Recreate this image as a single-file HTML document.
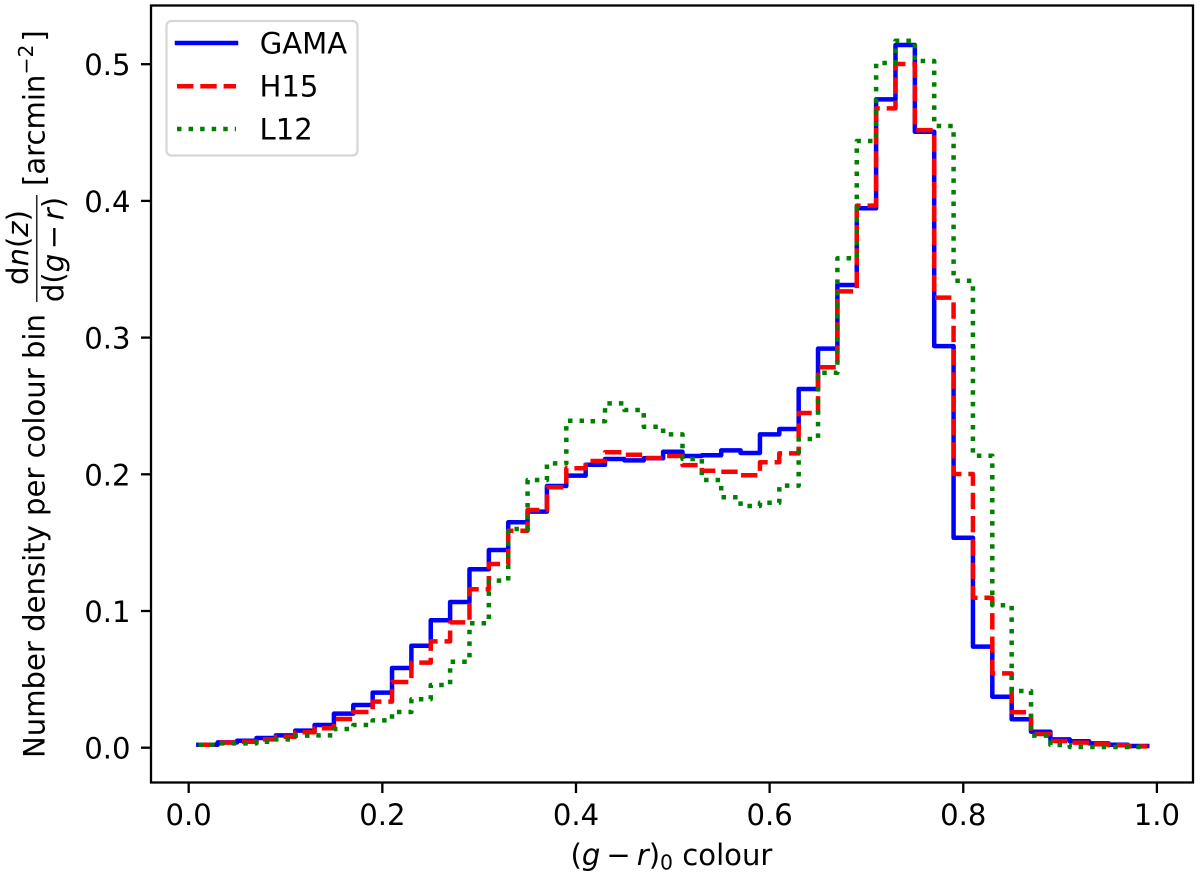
<!DOCTYPE html>
<html lang="en">
<head>
<meta charset="utf-8">
<title>Number density per colour bin</title>
<style>
html,body{margin:0;padding:0;background:#fff;}
svg{display:block;}
text{font-family:"DejaVu Sans","Liberation Sans",sans-serif;font-size:29.1px;fill:#000;white-space:pre;}
.it{font-style:italic;}
</style>
</head>
<body>
<svg id="chart" xmlns="http://www.w3.org/2000/svg" width="1200" height="878" viewBox="0 0 1200 878">
  <rect x="0" y="0" width="1200" height="878" fill="#fff"/>
  <g id="series-layer"></g>
  <rect x="151" y="5.5" width="1042" height="777" fill="none" stroke="#000" stroke-width="2.3"/>
  <g id="x-ticks"></g>
  <g id="y-ticks"></g>

  <text x="570.5" y="865">(<tspan class="it">g</tspan><tspan dx="6">−</tspan><tspan class="it" dx="6">r</tspan>)<tspan font-size="20.4" dy="4.5">0</tspan><tspan dy="-4.5"> colour</tspan></text>

  <g>
    <text transform="translate(44.3,758) rotate(-90)">Number density per colour bin</text>
    <text transform="translate(28,247.5) rotate(-90)" text-anchor="middle">d<tspan class="it">n</tspan>(<tspan class="it">z</tspan>)</text>
    <line x1="36.8" x2="36.8" y1="195" y2="302" stroke="#000" stroke-width="1.3"/>
    <text transform="translate(63.3,249.5) rotate(-90)" text-anchor="middle">d(<tspan class="it">g</tspan><tspan dx="4.6">−</tspan><tspan class="it" dx="4.6">r</tspan>)</text>
    <text transform="translate(44.3,186) rotate(-90)">[arcmin<tspan font-size="20.4" dy="-11.5">−2</tspan><tspan dx="3" dy="11.5">]</tspan></text>
  </g>

  <g>
    <rect x="166.5" y="21" width="191" height="134.5" rx="5" ry="5" fill="#fff" fill-opacity="0.8" stroke="#ccc" stroke-opacity="0.8" stroke-width="2.2"/>
    <g>
      <line x1="177" x2="236" y1="43" y2="43" stroke="#0000ff" stroke-width="4.5" stroke-linecap="square"/>
      <text x="259.7" y="53.3">GAMA</text>
    </g>
    <g>
      <line x1="177" x2="236" y1="86.3" y2="86.3" stroke="#ff0000" stroke-width="4.5" stroke-dasharray="16.4 6.9"/>
      <text x="259.5" y="96.7">H15</text>
    </g>
    <g>
      <line x1="177" x2="236" y1="129" y2="129" stroke="#008000" stroke-width="4.5" stroke-dasharray="4.5 7.06"/>
      <text x="259.5" y="139.6">L12</text>
    </g>
  </g>
</svg>
<script>
var binCentres = [0.02,0.04,0.06,0.08,0.10,0.12,0.14,0.16,0.18,0.20,0.22,0.24,0.26,0.28,0.30,0.32,0.34,0.36,0.38,0.40,0.42,0.44,0.46,0.48,0.50,0.52,0.54,0.56,0.58,0.60,0.62,0.64,0.66,0.68,0.70,0.72,0.74,0.76,0.78,0.80,0.82,0.84,0.86,0.88,0.90,0.92,0.94,0.96,0.98];
var gamaValues = [0.0022,0.0039,0.0051,0.0071,0.0090,0.0125,0.0166,0.0249,0.0312,0.0403,0.0583,0.0746,0.0932,0.1066,0.1305,0.1446,0.1649,0.1727,0.1914,0.1990,0.2070,0.2112,0.2102,0.2117,0.2165,0.2134,0.2139,0.2175,0.2156,0.2292,0.2331,0.2624,0.2919,0.3385,0.3946,0.4743,0.5140,0.4506,0.2938,0.1536,0.0739,0.0373,0.0208,0.0117,0.0061,0.0047,0.0032,0.0022,0.0012];
var h15Values = [0.0022,0.0037,0.0044,0.0061,0.0080,0.0113,0.0142,0.0210,0.0261,0.0337,0.0481,0.0622,0.0778,0.0917,0.1159,0.1344,0.1587,0.1739,0.1905,0.2044,0.2097,0.2161,0.2143,0.2119,0.2134,0.2067,0.2026,0.2019,0.1993,0.2088,0.2153,0.2448,0.2783,0.3338,0.3965,0.4677,0.5001,0.4518,0.3292,0.2002,0.1097,0.0544,0.0259,0.0100,0.0049,0.0037,0.0025,0.0018,0.0010];
var l12Values = [0.0022,0.0032,0.0032,0.0044,0.0061,0.0088,0.0090,0.0137,0.0166,0.0200,0.0261,0.0354,0.0459,0.0629,0.0910,0.1222,0.1600,0.1958,0.2080,0.2392,0.2388,0.2519,0.2470,0.2348,0.2292,0.2112,0.1958,0.1832,0.1768,0.1792,0.1917,0.2258,0.2743,0.3580,0.4438,0.5009,0.5172,0.5023,0.4548,0.3416,0.2136,0.1042,0.0415,0.0088,0.0020,0.0005,0.0005,0.0005,0.0005];
var xTickValues = [0.0,0.2,0.4,0.6,0.8,1.0];
var xTickLabels = ["0.0","0.2","0.4","0.6","0.8","1.0"];
var yTickValues = [0.0,0.1,0.2,0.3,0.4,0.5];
var yTickLabels = ["0.0","0.1","0.2","0.3","0.4","0.5"];

var NS = 'http://www.w3.org/2000/svg';
var binWidth = 0.02;
function xScale(v){ return 188.7 + 968.2 * v; }
function yScale(v){ return 747.7 - 1367 * v; }

function stepPath(centres, values){
  var d = 'M' + xScale(centres[0] - binWidth / 2).toFixed(2) + ' ' + yScale(values[0]).toFixed(2);
  for (var i = 0; i < centres.length; i++) {
    if (i > 0) d += 'V' + yScale(values[i]).toFixed(2);
    d += 'H' + xScale(centres[i] + binWidth / 2).toFixed(2);
  }
  return d;
}

var seriesLayer = document.getElementById('series-layer');

var gamaPath = document.createElementNS(NS, 'path');


gamaPath.setAttribute('d', stepPath(binCentres, gamaValues));
gamaPath.setAttribute('fill', 'none');
gamaPath.setAttribute('stroke', '#0000ff');
gamaPath.setAttribute('stroke-width', '4.5');
gamaPath.setAttribute('stroke-linejoin', 'round');
gamaPath.setAttribute('stroke-linecap', 'square');
seriesLayer.appendChild(gamaPath);

var h15Path = document.createElementNS(NS, 'path');


h15Path.setAttribute('d', stepPath(binCentres, h15Values));
h15Path.setAttribute('fill', 'none');
h15Path.setAttribute('stroke', '#ff0000');
h15Path.setAttribute('stroke-width', '4.5');
h15Path.setAttribute('stroke-linejoin', 'round');
h15Path.setAttribute('stroke-dasharray', '16.4 6.9');
seriesLayer.appendChild(h15Path);

var l12Path = document.createElementNS(NS, 'path');


l12Path.setAttribute('d', stepPath(binCentres, l12Values));
l12Path.setAttribute('fill', 'none');
l12Path.setAttribute('stroke', '#008000');
l12Path.setAttribute('stroke-width', '4.5');
l12Path.setAttribute('stroke-linejoin', 'round');
l12Path.setAttribute('stroke-dasharray', '4.5 7.06');
seriesLayer.appendChild(l12Path);

var xTicks = document.getElementById('x-ticks');
xTickValues.forEach(function (v, i) {
  var tick = document.createElementNS(NS, 'line');
  
  
  tick.setAttribute('x1', xScale(v));
  tick.setAttribute('x2', xScale(v));
  tick.setAttribute('y1', 782.5);
  tick.setAttribute('y2', 793);
  tick.setAttribute('stroke', '#000');
  tick.setAttribute('stroke-width', '2.3');
  xTicks.appendChild(tick);
  var label = document.createElementNS(NS, 'text');
  
  
  label.setAttribute('x', xScale(v));
  label.setAttribute('y', 825);
  label.setAttribute('text-anchor', 'middle');
  label.textContent = xTickLabels[i];
  xTicks.appendChild(label);
});

var yTicks = document.getElementById('y-ticks');
yTickValues.forEach(function (v, i) {
  var tick = document.createElementNS(NS, 'line');
  
  
  tick.setAttribute('x1', 141);
  tick.setAttribute('x2', 151);
  tick.setAttribute('y1', yScale(v));
  tick.setAttribute('y2', yScale(v));
  tick.setAttribute('stroke', '#000');
  tick.setAttribute('stroke-width', '2.3');
  yTicks.appendChild(tick);
  var label = document.createElementNS(NS, 'text');
  
  
  label.setAttribute('x', 130.5);
  label.setAttribute('y', yScale(v) + 11);
  label.setAttribute('text-anchor', 'end');
  label.textContent = yTickLabels[i];
  yTicks.appendChild(label);
});
</script>
</body>
</html>
